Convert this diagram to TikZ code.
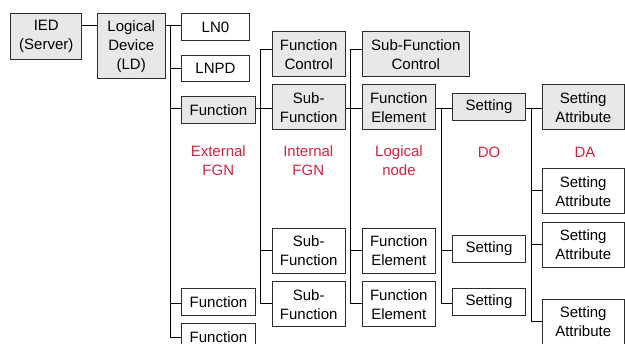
\documentclass[tikz,border=0pt]{standalone}
\usepackage{fontspec}
\setmainfont{Liberation Sans}
\definecolor{lblred}{RGB}{214,32,62}
\definecolor{boxgray}{RGB}{232,232,232}
\definecolor{edge}{RGB}{45,45,45}
\begin{document}
\begin{tikzpicture}[x=1pt,y=-1pt,
  base/.style={draw=edge,line width=1pt,inner sep=0pt,align=center,
    font=\fontsize{15}{19}\selectfont},
  gbox/.style={base,fill=boxgray},
  wbox/.style={base,fill=white},
  sm/.style={minimum height=26.7pt},
  tall/.style={minimum height=45.3pt},
  w73/.style={minimum width=73.4pt},
  lbl/.style={text=lblred,align=center,font=\fontsize{15}{19}\selectfont},
  conn/.style={draw=black,line width=0.9pt}]
\useasboundingbox (0,0) rectangle (625,344);
\clip (0,0) rectangle (625,344);
% level 0/1
\node[gbox,minimum width=71.3pt,minimum height=46pt] (ied) at (46.3,36.7) {IED\\(Server)};
\node[gbox,minimum width=67.7pt,minimum height=65pt] (ld) at (131.2,46.2) {Logical\\Device\\(LD)};
% level 2
\node[wbox,sm,minimum width=67.6pt] (ln0) at (215.5,27) {LN0};
\node[wbox,sm,minimum width=67.6pt] (lnpd) at (215.5,68.5) {LNPD};
\node[gbox,sm,w73] (fa) at (218.5,110) {Function};
\node[wbox,sm,w73] (fb) at (218.5,301.7) {Function};
\node[wbox,sm,w73] (fc) at (218.5,337.3) {Function};
% level 3
\node[gbox,tall,w73] (fctl) at (308.7,54.3) {Function\\Control};
\node[gbox,tall,w73] (sfa) at (308.7,107.3) {Sub-\\Function};
\node[wbox,tall,w73] (sfb) at (308.7,251) {Sub-\\Function};
\node[wbox,tall,w73] (sfc) at (308.7,304.2) {Sub-\\Function};
% level 4
\node[gbox,tall,minimum width=107pt] (sfctl) at (415.8,54.3) {Sub-Function\\Control};
\node[gbox,tall,w73] (fea) at (398.8,107.3) {Function\\Element};
\node[wbox,tall,w73] (feb) at (398.8,251) {Function\\Element};
\node[wbox,tall,w73] (fec) at (398.8,304.2) {Function\\Element};
% level 5
\node[gbox,sm,w73] (sea) at (489,106.7) {Setting};
\node[wbox,sm,w73] (seb) at (489,248.7) {Setting};
\node[wbox,sm,w73] (sec) at (489,301.7) {Setting};
% level 6
\node[gbox,tall,minimum width=81.7pt] (saa) at (583.2,107.3) {Setting\\Attribute};
\node[wbox,tall,minimum width=81.7pt] (sab) at (583.2,191.3) {Setting\\Attribute};
\node[wbox,tall,minimum width=81.7pt] (sac) at (583.2,244.7) {Setting\\Attribute};
\node[wbox,tall,minimum width=81.7pt] (sad) at (583.2,322) {Setting\\Attribute};
% labels
\node[lbl] (l1) at (218.3,161) {External\\FGN};
\node[lbl] (l2) at (308.3,161) {Internal\\FGN};
\node[lbl] (l3) at (399,161) {Logical\\node};
\node[lbl] (l4) at (489,152) {DO};
\node[lbl] (l5) at (585,152) {DA};
% connectors: IED - LD
\draw[conn] (ied.east |- 0,25.3) -- (ld.west |- 0,25.3);
% trunk of LD
\coordinate (t1) at (170.7,25.3);
\draw[conn] (ld.east |- t1) -- (ln0.west |- t1);
\draw[conn] (t1) |- (fc.west);
\draw[conn] (t1 |- lnpd.west) -- (lnpd.west);
\draw[conn] (t1 |- 0,108.3) -- (fa.west |- 0,108.3);
\draw[conn] (t1 |- 0,303.3) -- (fb.west |- 0,303.3);
% level 3 trunk
\coordinate (t2) at (260.3,49.3);
\draw[conn] (t2) -- (fctl.west |- t2);
\draw[conn] (fa.east |- 0,108.3) -- (sfa.west |- 0,108.3);
\draw[conn] (t2) -- (t2 |- 0,303.3) -- (sfc.west |- 0,303.3);
\draw[conn] (t2 |- 0,250.3) -- (sfb.west |- 0,250.3);
% level 4 trunk
\coordinate (t3) at (350.7,49.3);
\draw[conn] (t3) -- (sfctl.west |- t3);
\draw[conn] (sfa.east |- 0,108.3) -- (fea.west |- 0,108.3);
\draw[conn] (t3) -- (t3 |- 0,303.3) -- (fec.west |- 0,303.3);
\draw[conn] (t3 |- 0,250.3) -- (feb.west |- 0,250.3);
% level 5 trunk
\coordinate (t4) at (441.3,108.3);
\draw[conn] (fea.east |- t4) -- (sea.west |- t4);
\draw[conn] (t4) -- (t4 |- 0,303.3) -- (sec.west |- 0,303.3);
\draw[conn] (t4 |- 0,250.3) -- (seb.west |- 0,250.3);
% level 6 trunk
\coordinate (t5) at (531.3,108.3);
\draw[conn] (sea.east |- t5) -- (saa.west |- t5);
\draw[conn] (t5) -- (t5 |- 0,321) -- (sad.west |- 0,321);
\draw[conn] (t5 |- 0,190.7) -- (sab.west |- 0,190.7);
\draw[conn] (t5 |- 0,244) -- (sac.west |- 0,244);
\end{tikzpicture}
\end{document}
